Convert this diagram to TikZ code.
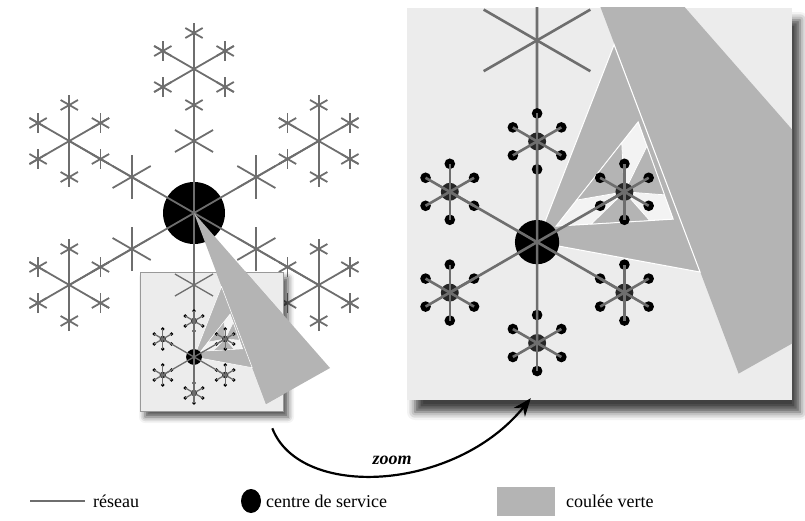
\documentclass[tikz,border=0pt]{standalone}
\usepackage{fontspec}
\setmainfont{Liberation Serif}
\usetikzlibrary{arrows.meta, positioning, calc, shadows.blur}

\definecolor{netgray}{RGB}{110,110,110}
\definecolor{greenway}{RGB}{180,180,180}
\definecolor{boxgray}{RGB}{236,236,236}
\definecolor{holegray}{RGB}{243,243,243}

\tikzset{
  net/.style={draw=netgray, line width=1.8pt},
  zoomnet/.style={draw=netgray, line width=#1},
  corridor/.style={fill=greenway},
  edgeline/.style={draw=white, line width=#1},
  zbox/.style={draw=gray!80, line width=0.6pt, fill=boxgray, inner sep=0pt,
    minimum width=143pt, minimum height=139pt,
    blur shadow={shadow xshift=5pt, shadow yshift=-6pt, shadow blur radius=6pt, shadow opacity=70}},
  zpanel/.style={fill=boxgray, inner sep=0pt, minimum width=385pt, minimum height=392pt,
    blur shadow={shadow xshift=8pt, shadow yshift=-12pt, shadow blur radius=8pt, shadow opacity=75}},
  zoomarrow/.style={-{Stealth[length=18pt, width=14pt]}, line width=2.2pt},
  legendtext/.style={anchor=west, inner sep=0pt, font=\fontsize{18}{20}\selectfont},
}

% asterisk with three strokes
\newcommand{\netcross}[3]{%
  \foreach \cang in {30,90,150}
    \draw[zoomnet=#3] ($#1+(\cang:#2)$) -- ($#1+(\cang+180:#2)$);
}

% zoomed part of the network, in the coordinates of the left drawing
\newcommand{\zoomview}[1]{%
  \coordinate (c2) at (194,357);
  \coordinate (q1) at (221.5,286.5);
  \coordinate (q2) at (252.2,367.7);
  \coordinate (a3) at (230.1,314.1);
  \coordinate (b3) at (200.8,351.3);
  \coordinate (c3) at (242.6,348.8);
  \coordinate (s) at ($(c2)+(-30:36)$);
  % corridors
  \fill[corridor] (194,213) -- (330,368) -- (266,404) -- cycle;
  \filldraw[corridor, edgeline=0.4*#1] (c2) -- (q1) -- (q2) -- cycle;
  \filldraw[fill=holegray, edgeline=0.4*#1] (a3) -- (b3) -- (c3) -- cycle;
  \filldraw[corridor, edgeline=0.3*#1] (s) -- ($(a3)!0.2!(b3)$) -- ($(a3)!0.75!(b3)$) -- cycle;
  \filldraw[corridor, edgeline=0.3*#1] (s) -- ($(b3)!0.3!(c3)$) -- ($(b3)!0.8!(c3)$) -- cycle;
  \filldraw[corridor, edgeline=0.3*#1] (s) -- ($(a3)!0.25!(c3)$) -- ($(a3)!0.75!(c3)$) -- cycle;
  % network
  \draw[zoomnet=#1] (c2) -- (194,213);
  \netcross{(194,285)}{22}{#1}
  \fill (c2) circle (7.9);
  \foreach \ang in {30,90,...,330} {
    \coordinate (sub) at ($(c2)+(\ang:36)$);
    \fill[black!85] (sub) circle (3.2);
    \foreach \bng in {30,90,...,330}
      \fill ($(sub)+(\bng:10)$) circle (1.9);
    \draw[zoomnet=#1] (c2) -- (sub);
    \foreach \bng in {30,90,...,330}
      \draw[zoomnet=#1] (sub) -- ++(\bng:10);
  }
}

\begin{document}
\begin{tikzpicture}[x=1pt, y=-1pt]
  \useasboundingbox (0,0) rectangle (805,521);

  % Network around the main service centre
  \coordinate (c0) at (194,213);
  \fill (c0) circle (31);
  \foreach \ang in {30,90,...,330} {
    \draw[net] (c0) -- ++(\ang:144);
    \coordinate (mid) at ($(c0)+(\ang:72)$);
    \netcross{(mid)}{22}{1.8pt}
    \coordinate (tip) at ($(c0)+(\ang:144)$);
    \foreach \bng in {30,90,...,330} {
      \draw[net] (tip) -- ++(\bng:46);
      \coordinate (sub) at ($(tip)+(\bng:36)$);
      \netcross{(sub)}{10}{1.8pt}
    }
  }

  % Zoomed area
  \node[zbox] (zbox) at (211.5,341.5) {};
  \fill[corridor] (c0) -- (330,368) -- (266,404) -- cycle;
  \begin{scope}
    \clip (zbox.south west) rectangle (zbox.north east);
    \zoomview{1.3pt}
  \end{scope}

  % Enlarged view
  \node[zpanel] (zpanel) at (599.5,204) {};
  \begin{scope}
    \clip (zpanel.south west) rectangle (zpanel.north east);
    \begin{scope}[shift={(537,242)}, scale=2.8, shift={(-194,-357)}]
      \zoomview{2.6pt}
    \end{scope}
  \end{scope}

  % Zoom arrow
  \coordinate (zstart) at ($(zbox.south east)+(-11,17)$);
  \coordinate (zend) at ($(zpanel.south west)+(124,-2)$);
  \draw[zoomarrow] (zstart) .. controls (300,500) and (455,492) .. (zend);
  \node[font=\fontsize{18}{20}\selectfont\bfseries\itshape] (zlabel) at (392,460) {zoom};

  % Legend
  \coordinate (lnetA) at (30,501);
  \coordinate (lnetB) at (85,501);
  \draw[net] (lnetA) -- (lnetB);
  \node[legendtext] (lnet) at (93,501) {réseau};
  \fill (251,501) ellipse (10 and 12);
  \node[legendtext] (lcentre) at (266,501) {centre de service};
  \fill[corridor] (497,487) rectangle (555,516);
  \node[legendtext] (lgreen) at (566,501) {coulée verte};
\end{tikzpicture}
\end{document}
